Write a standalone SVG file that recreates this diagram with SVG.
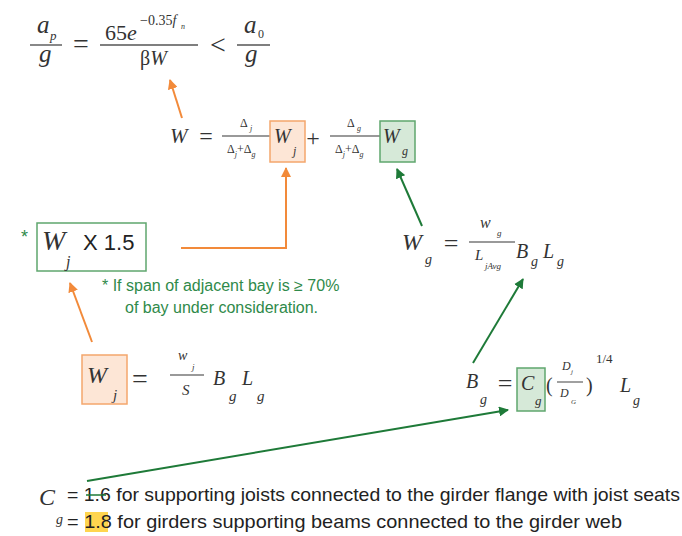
<svg xmlns="http://www.w3.org/2000/svg" width="682" height="536" viewBox="0 0 682 536">
<defs>
<style>
.m{font-family:"Liberation Serif","DejaVu Serif",serif;font-style:italic;fill:#333}
.u{font-family:"Liberation Serif","DejaVu Serif",serif;font-style:normal;fill:#333}
.s{font-family:"Liberation Sans",Arial,sans-serif;fill:#222}
.gt{font-family:"Liberation Sans",Arial,sans-serif;fill:#2f8a4a}
.fl{stroke:#555;stroke-width:1.4}
.fls{stroke:#777;stroke-width:1.4}
.ob{fill:#fde6d6;stroke:#f4a66c;stroke-width:1.5}
.gb{fill:#d6e9d8;stroke:#5fa66e;stroke-width:1.5}
.oc{fill:none;stroke:#f28a3a;stroke-width:2;marker-end:url(#ao)}
.gc{fill:none;stroke:#1e7a38;stroke-width:2;marker-end:url(#ag)}
</style>
<marker id="ao" markerUnits="userSpaceOnUse" markerWidth="11" markerHeight="10" refX="9" refY="5" orient="auto"><path d="M0,0 L10,5 L0,10 Z" fill="#f28a3a"/></marker>
<marker id="ag" markerUnits="userSpaceOnUse" markerWidth="11" markerHeight="10" refX="9" refY="5" orient="auto"><path d="M0,0 L10,5 L0,10 Z" fill="#1e7a38"/></marker>
</defs>

<g id="eq-ap">
<text class="m" x="37" y="33" font-size="25">a</text>
<text class="m" x="50" y="40" font-size="13">p</text>
<line class="fl" x1="30" y1="45" x2="62" y2="45"/>
<text class="m" x="39" y="62" font-size="25">g</text>
<text class="u" x="81" y="53" font-size="28" text-anchor="middle">=</text>
<text class="u" x="105" y="40" font-size="22">65<tspan class="m">e</tspan></text>
<text class="u" x="140" y="25" font-size="14">−0.35<tspan class="m">f</tspan></text>
<text class="m" x="181" y="29" font-size="8">n</text>
<line class="fl" x1="100" y1="45" x2="198" y2="45"/>
<text class="u" x="140" y="65" font-size="20">β<tspan class="m">W</tspan></text>
<text class="u" x="218" y="54" font-size="28" text-anchor="middle">&lt;</text>
<text class="m" x="244" y="33" font-size="25">a</text>
<text class="u" x="258" y="38" font-size="12">0</text>
<line class="fl" x1="237" y1="45" x2="270" y2="45"/>
<text class="m" x="245" y="62" font-size="25">g</text>
</g>

<g id="eq-W">
<text class="m" x="170" y="143" font-size="21">W</text>
<text class="u" x="206" y="144" font-size="24" text-anchor="middle">=</text>
<text class="u" x="240" y="127" font-size="12">Δ</text>
<text class="m" x="250" y="131" font-size="8">j</text>
<line class="fls" x1="222" y1="136" x2="272" y2="136"/>
<text class="u" x="227" y="153" font-size="12">Δ<tspan class="m" font-size="8" dy="4">j</tspan><tspan dy="-4">+Δ</tspan><tspan class="m" font-size="8" dy="4">g</tspan></text>
<rect class="ob" x="270" y="121" width="35" height="41"/>
<text class="m" x="274" y="143" font-size="20">W</text>
<text class="m" x="293" y="155" font-size="12">j</text>
<text class="u" x="313" y="146" font-size="24" text-anchor="middle">+</text>
<text class="u" x="347" y="127" font-size="12">Δ</text>
<text class="m" x="357" y="131" font-size="8">g</text>
<line class="fls" x1="330" y1="136" x2="380" y2="136"/>
<text class="u" x="335" y="153" font-size="12">Δ<tspan class="m" font-size="8" dy="4">j</tspan><tspan dy="-4">+Δ</tspan><tspan class="m" font-size="8" dy="4">g</tspan></text>
<rect class="gb" x="380" y="121" width="35" height="41"/>
<text class="m" x="383" y="143" font-size="20">W</text>
<text class="m" x="402" y="155" font-size="12">g</text>
</g>

<g id="box-Wj15">
<rect x="37" y="223" width="109" height="48" fill="#fff" stroke="#5fa66e" stroke-width="1.5"/>
<text class="m" x="42" y="250" font-size="28">W</text>
<text class="m" x="66" y="267" font-size="16">j</text>
<text class="s" x="83" y="250" font-size="22">X 1.5</text>
<text class="gt" x="21" y="243" font-size="18">*</text>
</g>

<g id="note">
<text class="gt" x="102" y="291" font-size="16">* If span of adjacent bay is ≥ 70%</text>
<text class="gt" x="125" y="313" font-size="16">of bay under consideration.</text>
</g>

<g id="eq-Wg">
<text class="m" x="402" y="250" font-size="24">W</text>
<text class="m" x="425" y="264" font-size="14">g</text>
<text class="u" x="451" y="252" font-size="26" text-anchor="middle">=</text>
<text class="m" x="480" y="228" font-size="16">w</text>
<text class="m" x="497" y="236" font-size="9">g</text>
<line class="fls" x1="469" y1="242" x2="515" y2="242"/>
<text class="m" x="475" y="260" font-size="15">L</text>
<text class="m" x="485" y="269" font-size="9">jAvg</text>
<text class="m" x="516" y="258" font-size="20">B</text>
<text class="m" x="531" y="266" font-size="14">g</text>
<text class="m" x="543" y="258" font-size="20">L</text>
<text class="m" x="557" y="266" font-size="14">g</text>
</g>

<g id="eq-Wj">
<rect class="ob" x="82" y="355" width="45" height="49"/>
<text class="m" x="87" y="383" font-size="24">W</text>
<text class="m" x="113" y="400" font-size="15">j</text>
<text class="u" x="140" y="388" font-size="28" text-anchor="middle">=</text>
<text class="m" x="178" y="360" font-size="14">w</text>
<text class="m" x="192" y="370" font-size="9">j</text>
<line class="fls" x1="170" y1="375" x2="204" y2="375"/>
<text class="m" x="182" y="395" font-size="15">S</text>
<text class="m" x="213" y="385" font-size="20">B</text>
<text class="m" x="229" y="401" font-size="15">g</text>
<text class="m" x="242" y="385" font-size="20">L</text>
<text class="m" x="257" y="401" font-size="15">g</text>
</g>

<g id="eq-Bg">
<text class="m" x="466" y="388" font-size="20">B</text>
<text class="m" x="480" y="404" font-size="14">g</text>
<text class="u" x="505" y="392" font-size="26" text-anchor="middle">=</text>
<rect class="gb" x="517" y="368" width="28" height="43"/>
<text class="m" x="521" y="390" font-size="20">C</text>
<text class="m" x="535" y="405" font-size="13">g</text>
<text class="u" x="546" y="392" font-size="20">(</text>
<text class="m" x="562" y="370" font-size="12">D</text>
<text class="m" x="571" y="374" font-size="7">j</text>
<line class="fls" x1="557" y1="382" x2="583" y2="382"/>
<text class="m" x="560" y="397" font-size="12">D</text>
<text class="m" x="571" y="404" font-size="7">G</text>
<text class="u" x="586" y="392" font-size="20">)</text>
<text class="u" x="596" y="363" font-size="13">1/4</text>
<text class="m" x="620" y="392" font-size="20">L</text>
<text class="m" x="633" y="405" font-size="14">g</text>
</g>

<g id="cg-def">
<text class="m" x="39" y="505" font-size="24">C</text>
<text class="m" x="56" y="524" font-size="14">g</text>
<rect x="85" y="512" width="23" height="20" fill="#ffd54f"/>
<text class="s" x="67" y="501" font-size="19" textLength="613" lengthAdjust="spacingAndGlyphs">= 1.6 for supporting joists connected to the girder flange with joist seats</text>
<line x1="86" y1="495" x2="106" y2="495" stroke="#1e7a38" stroke-width="1.5"/>
<text class="s" x="67" y="528" font-size="19" textLength="555" lengthAdjust="spacingAndGlyphs">= 1.8 for girders supporting beams connected to the girder web</text>
</g>

<g id="connectors">
<path class="oc" d="M182,118 L170,80"/>
<path class="oc" d="M181,248 L286,248 L286,168"/>
<path class="oc" d="M92,342 L70,283"/>
<path class="gc" d="M422,226 L397,169"/>
<path class="gc" d="M473,363 L523,279"/>
<path class="gc" d="M87,481 L508,410"/>
</g>
</svg>
